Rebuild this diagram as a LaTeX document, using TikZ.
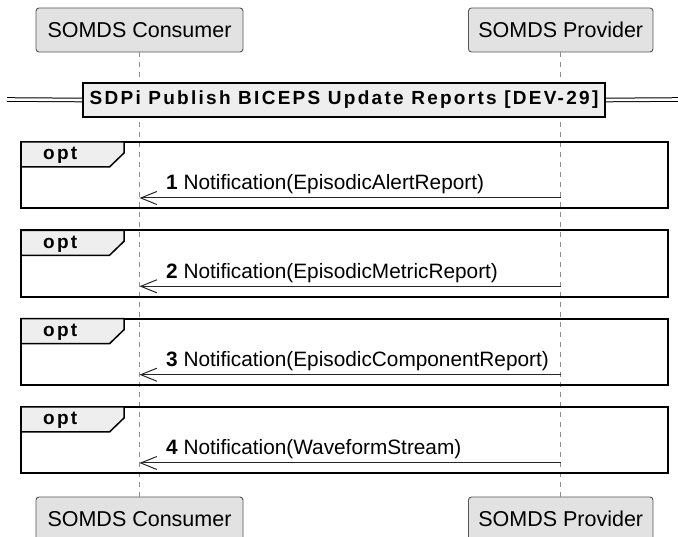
\documentclass[tikz,border=0pt]{standalone}
\usepackage{fontspec}
\setmainfont{Liberation Sans}
\usetikzlibrary{arrows.meta}
\definecolor{partfill}{HTML}{E2E2E2}
\definecolor{partdraw}{HTML}{555555}
\definecolor{lifecol}{HTML}{8C8C8C}
\definecolor{tabfill}{HTML}{EEEEEE}
\newfontfamily\spacedbold[LetterSpace=12]{Liberation Sans Bold}
\begin{document}
\begin{tikzpicture}[x=1pt,y=-1pt,
  part/.style={draw=partdraw, fill=partfill, rounded corners=3pt, line width=0.9pt,
    minimum height=44pt, inner sep=0pt, font=\fontsize{21.5}{24}\selectfont},
  lifeline/.style={draw=lifecol, line width=0.9pt, dash pattern=on 5pt off 5pt},
  frm/.style={draw=black, line width=2pt},
  tabshape/.style={draw=black, line width=1.5pt, fill=tabfill},
  tabtext/.style={font=\fontsize{19}{20}\spacedbold, inner sep=0pt, anchor=base west},
  msg/.style={draw=black!85, line width=1pt, -{Straight Barb[length=16pt,width=13pt,line width=1pt]}},
  lbl/.style={font=\fontsize{20.8}{22}\selectfont, inner sep=0pt, anchor=base west},
  divbox/.style={draw=black, line width=2pt, fill=tabfill, minimum width=522pt, minimum height=34pt,
    inner sep=0pt, font=\fontsize{19}{20}\spacedbold},
  dline/.style={draw=black, line width=1pt, double=white, double distance=2.6pt}
]
\useasboundingbox (0,0) rectangle (678,537);
% participants
\node[part, minimum width=207pt] (cTop) at (139.5,30) {SOMDS Consumer};
\node[part, minimum width=184.5pt] (pTop) at (560.75,30) {SOMDS Provider};
\node[part, minimum width=207pt] (cBot) at (139.5,519) {SOMDS Consumer};
\node[part, minimum width=184.5pt] (pBot) at (560.75,519) {SOMDS Provider};
% lifelines
\draw[lifeline] (cTop.south) -- (cBot.north);
\draw[lifeline] (pTop.south) -- (pBot.north);
% divider
\coordinate (dl) at (7,99.5);
\coordinate (dr) at (680,99.5);
\node[divbox] (div) at (344,100) {SDPi Publish BICEPS Update Reports [DEV-29]};
\draw[dline] (dl) -- (div.west);
\draw[dline] (div.east) -- (dr);
% opt frames
\foreach \t/\n/\txt in {142/1/EpisodicAlertReport, 230.3/2/EpisodicMetricReport, 318.7/3/EpisodicComponentReport, 407/4/WaveformStream}{
  \draw[frm] (21,\t) rectangle (668,\t+66.5);
  \draw[tabshape] (21,\t) -- (124,\t) -- (124,\t+11) -- (109.5,\t+25) -- (21,\t+25) -- cycle;
  \node[tabtext] (opt\n) at (43,\t+18) {opt};
  \coordinate (p\n) at (560.75,\t+56);
  \coordinate (c\n) at (139.5,\t+56);
  \draw[msg] (p\n) -- (c\n);
  \node[lbl] (m\n) at (166,\t+48) {\textbf{\n} Notification(\txt)};
}
\end{tikzpicture}
\end{document}
